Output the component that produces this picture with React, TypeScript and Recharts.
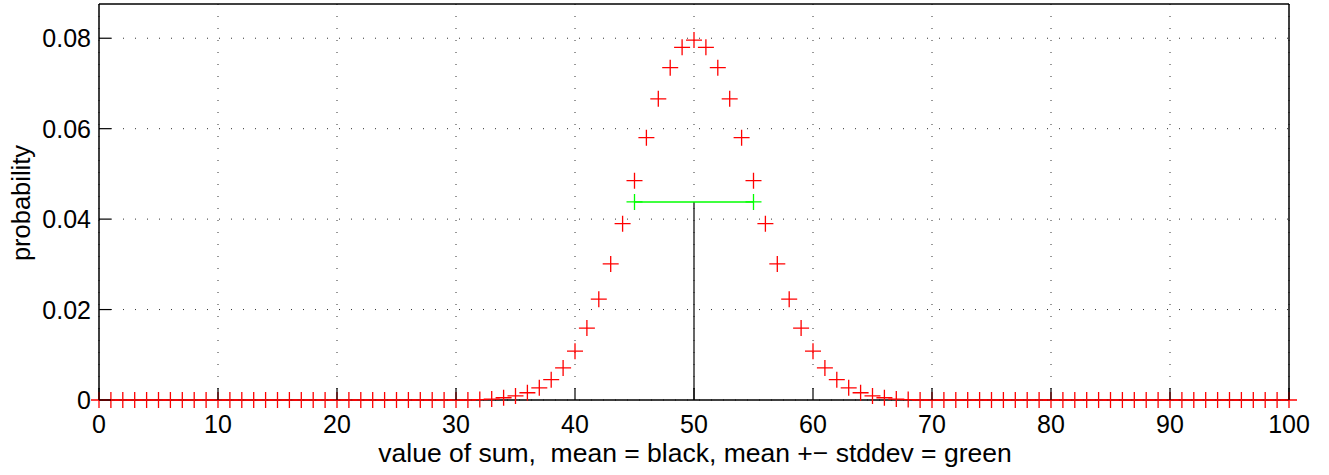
import React from "react";
import {
  ComposedChart,
  Scatter,
  XAxis,
  YAxis,
  CartesianGrid,
} from "recharts";

// binomial-looking probabilities for sums 0..100
const sums = Array.from({ length: 101 }, (_, i) => i);
const probability = [
  0, 0, 0, 0, 0, 0, 0, 0, 0, 0,
  0, 0, 0, 0, 0, 0, 0, 0, 0, 0,
  0, 0, 0, 0, 0, 0, 0, 0, 0, 0,
  0, 0, 0.0001, 0.0002, 0.0005, 0.0009, 0.0016, 0.0027, 0.0045, 0.0071,
  0.0108, 0.0159, 0.0223, 0.0301, 0.039, 0.0485, 0.058, 0.0666, 0.0735, 0.078,
  0.0796,
  0.078, 0.0735, 0.0666, 0.058, 0.0485, 0.039, 0.0301, 0.0223, 0.0159, 0.0108,
  0.0071, 0.0045, 0.0027, 0.0016, 0.0009, 0.0005, 0.0002, 0.0001, 0, 0,
  0, 0, 0, 0, 0, 0, 0, 0, 0, 0,
  0, 0, 0, 0, 0, 0, 0, 0, 0, 0,
  0, 0, 0, 0, 0, 0, 0, 0, 0, 0,
];
const mean = 50;
const meanBand = [45, 55];
const bandLevel = 0.0438;

const xTicks = [0, 10, 20, 30, 40, 50, 60, 70, 80, 90, 100];
const yTicks = [0, 0.02, 0.04, 0.06, 0.08];
const yTickLabels = ["0", "0.02", "0.04", "0.06", "0.08"];

const points = sums.map((s, i) => ({ x: s, y: probability[i] }));
const greenPts = meanBand.map((s) => ({ x: s, y: bandLevel }));
const blackPts = [
  { x: mean, y: 0 },
  { x: mean, y: bandLevel },
];

const FONT = "'Liberation Sans', Arial, Helvetica, sans-serif";
const TICK_LEN = 12;

const plus = (color: string) => (props: any) => {
  const { cx, cy } = props;
  if (cx == null || cy == null) return <g />;
  return (
    <path
      d={`M${cx - 8},${cy}H${cx + 8}M${cx},${cy - 8}V${cy + 8}`}
      stroke={color}
      strokeWidth={1.3}
      fill="none"
    />
  );
};

const noShape = () => <g />;

const BottomTick = (props: any) => {
  const { x, y, payload } = props;
  return (
    <g>
      <line x1={x} y1={y} x2={x} y2={y - TICK_LEN} stroke="#000" strokeWidth={1.2} />
      <text x={x} y={y + 33} textAnchor="middle" fontSize={25} fontFamily={FONT} fill="#000">
        {payload.value}
      </text>
    </g>
  );
};

const TopTick = (props: any) => {
  const { x, y } = props;
  return <line x1={x} y1={y} x2={x} y2={y + TICK_LEN} stroke="#000" strokeWidth={1.2} />;
};

const LeftTick = (props: any) => {
  const { x, y, index } = props;
  return (
    <g>
      <line x1={x} y1={y} x2={x + TICK_LEN} y2={y} stroke="#000" strokeWidth={1.2} />
      <text x={x - 8} y={y + 9} textAnchor="end" fontSize={25} fontFamily={FONT} fill="#000">
        {yTickLabels[index]}
      </text>
    </g>
  );
};

const RightTick = (props: any) => {
  const { x, y } = props;
  return <line x1={x} y1={y} x2={x - TICK_LEN} y2={y} stroke="#000" strokeWidth={1.2} />;
};

export default function App() {
  return (
    <div style={{ position: "absolute", left: 0, top: 0, width: 1329, height: 475, background: "#fff" }}>
      <ComposedChart
        width={1329}
        height={475}
        margin={{ top: 3, right: 39, bottom: 0, left: 0 }}
      >
        <CartesianGrid
          xAxisId="bottom"
          yAxisId="left"
          stroke="#333"
          strokeDasharray="1 11"
          verticalValues={xTicks}
          horizontalValues={yTicks}
        />
        <XAxis
          xAxisId="bottom"
          type="number"
          dataKey="x"
          domain={[0, 100]}
          ticks={xTicks}
          height={75}
          tickSize={0}
          tickMargin={0}
          tick={<BottomTick />}
          axisLine={{ stroke: "#000", strokeWidth: 1.5 }}
          tickLine={false}
          interval={0}
        />
        <XAxis
          xAxisId="top"
          orientation="top"
          type="number"
          dataKey="x"
          domain={[0, 100]}
          ticks={xTicks}
          height={1}
          tickSize={0}
          tickMargin={0}
          tick={<TopTick />}
          axisLine={{ stroke: "#000", strokeWidth: 1.5 }}
          tickLine={false}
          interval={0}
        />
        <YAxis
          yAxisId="left"
          type="number"
          dataKey="y"
          domain={[0, 0.08757]}
          ticks={yTicks}
          width={99}
          tickSize={0}
          tickMargin={0}
          tick={<LeftTick />}
          axisLine={{ stroke: "#000", strokeWidth: 1.5 }}
          tickLine={false}
          interval={0}
        />
        <YAxis
          yAxisId="right"
          orientation="right"
          type="number"
          dataKey="y"
          domain={[0, 0.08757]}
          ticks={yTicks}
          width={1}
          tickSize={0}
          tickMargin={0}
          tick={<RightTick />}
          axisLine={{ stroke: "#000", strokeWidth: 1.5 }}
          tickLine={false}
          interval={0}
        />
        <Scatter
          xAxisId="bottom"
          yAxisId="left"
          data={blackPts}
          line={{ stroke: "#000", strokeWidth: 1.2 }}
          shape={noShape}
          isAnimationActive={false}
        />
        <Scatter
          xAxisId="bottom"
          yAxisId="left"
          data={points}
          shape={plus("#ff0000")}
          isAnimationActive={false}
        />
        <Scatter
          xAxisId="bottom"
          yAxisId="left"
          data={greenPts}
          line={{ stroke: "#00ff00", strokeWidth: 1.5 }}
          shape={plus("#00ff00")}
          isAnimationActive={false}
        />
      </ComposedChart>
      <svg
        width={1329}
        height={475}
        style={{ position: "absolute", left: 0, top: 0, pointerEvents: "none" }}
      >
        <text
          transform="translate(30,203) rotate(-90)"
          textAnchor="middle"
          fontSize={25.5}
          fontFamily={FONT}
          fill="#000"
        >
          probability
        </text>
        <text
          x={695}
          y={462}
          textAnchor="middle"
          fontSize={26.5}
          fontFamily={FONT}
          fill="#000"
          style={{ whiteSpace: "pre" }}
        >
          {"value of sum,  mean = black, mean +\u2212 stddev = green"}
        </text>
      </svg>
    </div>
  );
}
